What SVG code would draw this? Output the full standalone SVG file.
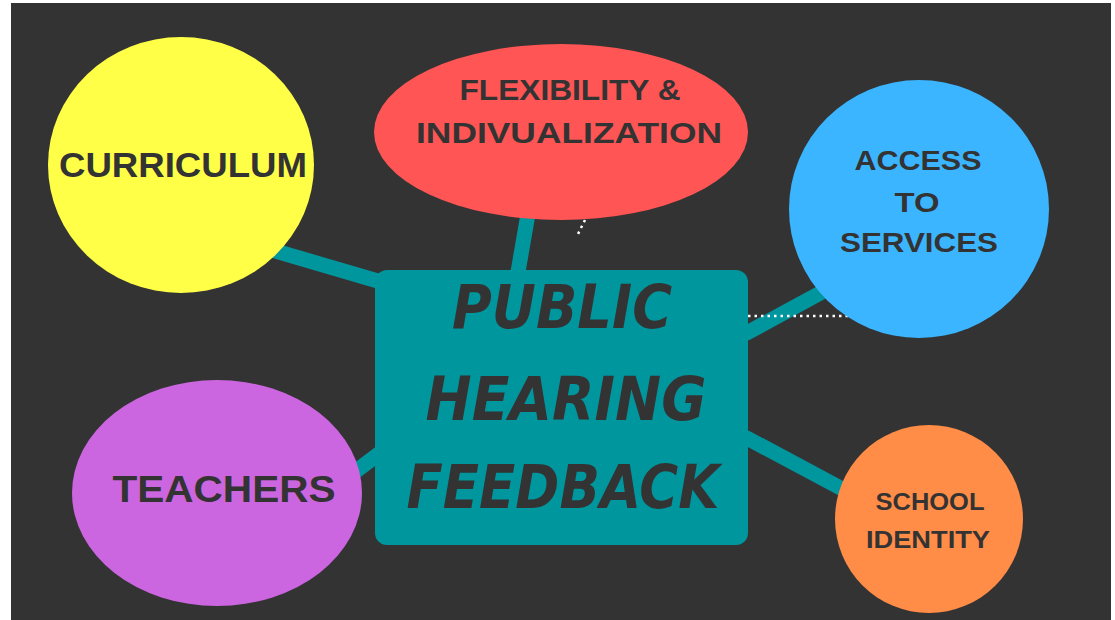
<svg xmlns="http://www.w3.org/2000/svg" width="1115" height="620" viewBox="0 0 1115 620">
<style>
.lbl{font-family:"Liberation Sans","DejaVu Sans",Arial,sans-serif;font-weight:bold;fill:#333333;text-anchor:middle}
.title{font-family:"DejaVu Sans","Liberation Sans",sans-serif;font-weight:bold;font-style:italic;fill:#333333;text-anchor:middle}
.conn{stroke:#00969E;stroke-width:15;fill:none;stroke-linecap:butt}
.dot{stroke:#FFFFFF;stroke-width:2.5;stroke-dasharray:2.5 4;fill:none}
</style>
<rect x="0" y="0" width="1115" height="620" fill="#FFFFFF"/>
<rect x="11" y="3" width="1100" height="617" fill="#333333"/>
<g id="connectors">
<line class="conn" x1="272" y1="250" x2="388" y2="284"/>
<line class="conn" x1="528" y1="214" x2="518" y2="272"/>
<line class="conn" x1="745" y1="334" x2="835" y2="285"/>
<line class="conn" x1="352" y1="474" x2="380" y2="453"/>
<line class="conn" x1="745" y1="437" x2="848" y2="492"/>
<path class="dot" d="M585 220 L577 236"/>
<path class="dot" d="M748 316 L850 316"/>
</g>
<g id="curriculum">
<ellipse cx="181" cy="165" rx="133" ry="128" fill="#FFFF47"/>
<text class="lbl" x="183" y="177" font-size="35" textLength="248" lengthAdjust="spacingAndGlyphs">CURRICULUM</text>
</g>
<g id="flexibility">
<ellipse cx="561" cy="132" rx="187" ry="88" fill="#FF5555"/>
<text class="lbl" x="570" y="100" font-size="29" textLength="221" lengthAdjust="spacingAndGlyphs">FLEXIBILITY &amp;</text>
<text class="lbl" x="569" y="143" font-size="29" textLength="306" lengthAdjust="spacingAndGlyphs">INDIVUALIZATION</text>
</g>
<g id="access">
<ellipse cx="919" cy="209" rx="130" ry="129" fill="#3BB5FF"/>
<text class="lbl" x="918" y="170" font-size="28" textLength="127" lengthAdjust="spacingAndGlyphs">ACCESS</text>
<text class="lbl" x="917" y="212" font-size="28" textLength="45" lengthAdjust="spacingAndGlyphs">TO</text>
<text class="lbl" x="919" y="252" font-size="28" textLength="158" lengthAdjust="spacingAndGlyphs">SERVICES</text>
</g>
<g id="teachers">
<ellipse cx="217" cy="493" rx="145" ry="113" fill="#CC66E0"/>
<text class="lbl" x="224" y="502" font-size="36" textLength="223" lengthAdjust="spacingAndGlyphs">TEACHERS</text>
</g>
<g id="school">
<ellipse cx="929" cy="519" rx="94" ry="94" fill="#FF8C47"/>
<text class="lbl" x="930" y="510" font-size="24" textLength="109" lengthAdjust="spacingAndGlyphs">SCHOOL</text>
<text class="lbl" x="928" y="548" font-size="24" textLength="124" lengthAdjust="spacingAndGlyphs">IDENTITY</text>
</g>
<g id="center">
<rect x="375" y="270" width="373" height="275" rx="12" ry="12" fill="#00969E"/>
<text class="title" x="562" y="328" font-size="60" textLength="220" lengthAdjust="spacingAndGlyphs">PUBLIC</text>
<text class="title" x="566" y="420" font-size="60" textLength="281" lengthAdjust="spacingAndGlyphs">HEARING</text>
<text class="title" x="563" y="508" font-size="60" textLength="313" lengthAdjust="spacingAndGlyphs">FEEDBACK</text>
</g>
</svg>
